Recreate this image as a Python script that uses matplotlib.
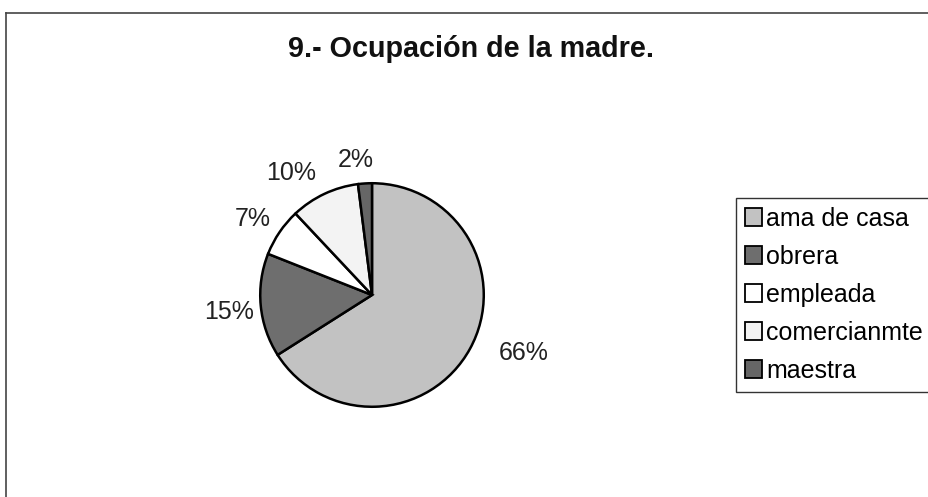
import numpy as np
import matplotlib.pyplot as plt
from matplotlib.lines import Line2D
from matplotlib.patches import Patch

# datos de la grafica
categorias = ['ama de casa', 'obrera', 'empleada', 'comercianmte', 'maestra']
porcentajes = [66, 15, 7, 10, 2]
colores = ['#c2c2c2', '#6e6e6e', '#ffffff', '#f3f3f3', '#666666']
titulo = '9.- Ocupación de la madre.'

plt.rcParams['font.family'] = ['Liberation Sans', 'DejaVu Sans']

W, H = 929, 497
fig = plt.figure(figsize=(W / 100, H / 100), dpi=100)

# marco (solo arriba e izquierda visibles)
fig.add_artist(Line2D([6 / W, 1], [1 - 13 / H, 1 - 13 / H], color='#444444', lw=1.2))
fig.add_artist(Line2D([6 / W, 6 / W], [0, 1 - 13 / H], color='#444444', lw=1.2))

fig.text(471 / W, 1 - 49 / H, titulo, ha='center', va='center',
         fontsize=20.7, fontweight='bold', color='#111111')

# pastel
cx, cy, r = 372, 295, 114
ax = fig.add_axes([(cx - r) / W, (H - cy - r) / H, 2 * r / W, 2 * r / H])
wedges, _ = ax.pie(porcentajes, colors=colores, startangle=90, counterclock=False,
                   wedgeprops=dict(edgecolor='black', linewidth=1.8))
ax.set_xlim(-1.02, 1.02)
ax.set_ylim(-1.02, 1.02)
ax.set_aspect('equal')

# etiquetas fuera del pastel (distancia y giro al estilo Excel)
dist = [1.45, 1.29, 1.265, 1.31, 1.22]
giro = [7.8, 1.2, 1.9, 8.1, 3.4]
for w, p, d, g in zip(wedges, porcentajes, dist, giro):
    ang = np.deg2rad((w.theta1 + w.theta2) / 2 + g)
    ax.text(d * np.cos(ang), d * np.sin(ang), f'{p}%', ha='center', va='center',
            fontsize=18, color='#222222', clip_on=False)

handles = [Patch(facecolor=c, edgecolor='black', linewidth=1.3) for c in colores]
leg = fig.legend(handles, categorias, loc='upper left',
                 bbox_to_anchor=(736 / W, 1 - 198 / H), borderaxespad=0,
                 fontsize=18, handlelength=0.7, handleheight=0.7, handletextpad=0.15,
                 labelspacing=0.56, borderpad=0.35, fancybox=False, framealpha=1,
                 edgecolor='#333333')
leg.get_frame().set_linewidth(1.0)

fig.savefig('out.png', dpi=100)
